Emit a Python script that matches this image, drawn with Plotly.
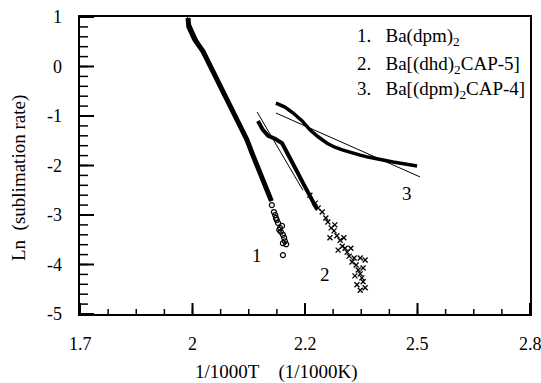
import plotly.graph_objects as go

# ---- data ----
s1_x = [1.964, 1.966, 1.980, 2.001, 2.018, 2.035, 2.050, 2.067, 2.088, 2.108, 2.123, 2.140, 2.155, 2.168]
s1_y = [0.98, 0.80, 0.55, 0.30, 0.02, -0.27, -0.52, -0.80, -1.12, -1.48, -1.80, -2.15, -2.45, -2.72]
s1_tail_x = [2.169, 2.174, 2.177, 2.179, 2.181, 2.184, 2.187, 2.189, 2.191, 2.194, 2.196, 2.199, 2.201, 2.196, 2.204, 2.196]
s1_tail_y = [-2.80, -2.94, -3.00, -3.06, -3.10, -3.16, -3.30, -3.26, -3.34, -3.22, -3.40, -3.46, -3.53, -3.57, -3.59, -3.81]

s2_x = [2.135, 2.147, 2.160, 2.177, 2.194, 2.206, 2.226, 2.245, 2.262, 2.279]
s2_y = [-1.10, -1.28, -1.40, -1.46, -1.55, -1.75, -2.05, -2.35, -2.62, -2.88]
s2_tail_x = [2.262, 2.275, 2.282, 2.292, 2.301, 2.306, 2.314, 2.321, 2.328, 2.336, 2.341, 2.348, 2.353,
             2.358, 2.365, 2.370, 2.375, 2.380, 2.385, 2.389, 2.392, 2.377, 2.385, 2.385, 2.397, 2.392,
             2.311, 2.331, 2.372, 2.323, 2.345, 2.362, 2.397]
s2_tail_y = [-2.60, -2.76, -2.86, -2.94, -3.06, -3.14, -3.26, -3.32, -3.42, -3.51, -3.63, -3.67, -3.75,
             -3.83, -3.95, -3.87, -4.01, -4.11, -4.19, -4.27, -4.35, -4.41, -4.52, -3.87, -3.91, -4.07,
             -3.46, -3.71, -4.23, -3.20, -3.46, -3.67, -4.47]

s3_x = [2.179, 2.201, 2.221, 2.243, 2.262, 2.282, 2.304, 2.323, 2.343, 2.365, 2.385, 2.404, 2.426, 2.446, 2.465, 2.495, 2.524]
s3_y = [-0.74, -0.82, -0.94, -1.10, -1.28, -1.42, -1.55, -1.63, -1.69, -1.75, -1.79, -1.83, -1.87, -1.91, -1.93, -1.97, -2.01]

fit1_x = [1.962, 2.05]
fit1_y = [1.0, -0.60]
fit2_x = [2.133, 2.245]
fit2_y = [-0.92, -2.50]
fit3_x = [2.179, 2.531]
fit3_y = [-0.94, -2.23]

legend_lines = ["1.\u00a0\u00a0\u00a0Ba(dpm)<sub>2</sub>",
                "2.\u00a0\u00a0\u00a0Ba[(dhd)<sub>2</sub>CAP-5]",
                "3.\u00a0\u00a0\u00a0Ba[(dpm)<sub>2</sub>CAP-4]"]
legend_y = [0.60, 0.03, -0.48]
legend_x = 2.372

curve_labels = ["1", "2", "3"]
curve_label_x = [2.133, 2.299, 2.500]
curve_label_y = [-3.81, -4.21, -2.56]

X_RANGE = [1.7, 2.8]
Y_RANGE = [-5, 1]
x_tickvals = [1.7, 1.975, 2.25, 2.525, 2.8]
x_ticktext = ["1.7", "2", "2.2", "2.5", "2.8"]
y_tickvals = [1, 0, -1, -2, -3, -4, -5]
y_ticktext = ["1", "0", "-1", "-2", "-3", "-4", "-5"]
x_minor = [X_RANGE[0] + i * (x_tickvals[1] - x_tickvals[0]) / 4 for i in range(17)]
y_minor = [Y_RANGE[0] + i * 0.2 for i in range(31)]

FONT = "Liberation Serif"
PLOT_W, PLOT_H = 450, 297
X_PER_PX = (X_RANGE[1] - X_RANGE[0]) / PLOT_W
Y_PER_PX = (Y_RANGE[1] - Y_RANGE[0]) / PLOT_H

fig = go.Figure()


def tick_trace(xs, ys, width):
    fig.add_trace(go.Scatter(x=xs, y=ys, mode="lines", line=dict(color="black", width=width),
                             hoverinfo="skip", cliponaxis=False))


# inward ticks, built from the tick arrays on the axis scales
for vals, length, width in [(x_minor, 5, 1.5), (x_tickvals, 11, 2)]:
    xs, ys = [], []
    for v in vals:
        xs += [v, v, None]
        ys += [Y_RANGE[0], Y_RANGE[0] + length * Y_PER_PX, None]
    tick_trace(xs, ys, width)
for vals, length, width in [(y_minor, 8, 1.5), (y_tickvals, 14, 2)]:
    xs, ys = [], []
    for v in vals:
        xs += [X_RANGE[0], X_RANGE[0] + length * X_PER_PX, None]
        ys += [v, v, None]
    tick_trace(xs, ys, width)

for fx, fy in [(fit1_x, fit1_y), (fit2_x, fit2_y), (fit3_x, fit3_y)]:
    fig.add_trace(go.Scatter(x=fx, y=fy, mode="lines", line=dict(color="black", width=1)))

fig.add_trace(go.Scatter(x=s1_x, y=s1_y, mode="lines", line=dict(color="black", width=5)))
fig.add_trace(go.Scatter(x=s1_tail_x, y=s1_tail_y, mode="markers",
                         marker=dict(symbol="circle-open", size=5, color="black", line=dict(width=1.2))))
fig.add_trace(go.Scatter(x=s2_x, y=s2_y, mode="lines", line=dict(color="black", width=4)))
fig.add_trace(go.Scatter(x=s2_tail_x, y=s2_tail_y, mode="markers",
                         marker=dict(symbol="x-thin", size=5, color="black", line=dict(width=1.3, color="black"))))
fig.add_trace(go.Scatter(x=s3_x, y=s3_y, mode="lines", line=dict(color="black", width=3.5)))

for t, yy in zip(legend_lines, legend_y):
    fig.add_annotation(x=legend_x, y=yy, text=t, showarrow=False, xanchor="left", yanchor="middle",
                       font=dict(family=FONT, size=19, color="black"))
for t, xx, yy in zip(curve_labels, curve_label_x, curve_label_y):
    fig.add_annotation(x=xx, y=yy, text=t, showarrow=False, xanchor="center", yanchor="middle",
                       font=dict(family=FONT, size=19, color="black"))

# tick labels (placed on the axis scales)
for v, t in zip(x_tickvals, x_ticktext):
    fig.add_annotation(x=v, xref="x", yref="paper", y=-30 / PLOT_H, text=t, showarrow=False,
                       xanchor="center", yanchor="middle", font=dict(family=FONT, size=18, color="black"))
for v, t in zip(y_tickvals, y_ticktext):
    fig.add_annotation(x=-16 / PLOT_W, xref="paper", yref="y", y=v, text=t, showarrow=False,
                       xanchor="right", yanchor="middle", font=dict(family=FONT, size=18, color="black"))

# axis titles
fig.add_annotation(xref="paper", yref="paper", x=(276 - 80) / PLOT_W, y=-(372 - 314) / PLOT_H,
                   text="1/1000T\u00a0\u00a0\u00a0\u00a0(1/1000K)", showarrow=False,
                   xanchor="center", yanchor="middle", font=dict(family=FONT, size=19, color="black"))
fig.add_annotation(xref="paper", yref="paper", x=-(80 - 19) / PLOT_W, y=(314 - 178) / PLOT_H,
                   text="Ln\u00a0\u00a0(sublimation rate)", showarrow=False, textangle=-90,
                   xanchor="center", yanchor="middle", font=dict(family=FONT, size=19, color="black"))

fig.update_layout(
    width=541, height=383,
    margin=dict(l=80, r=11, t=17, b=69),
    paper_bgcolor="white", plot_bgcolor="white",
    showlegend=False,
    font=dict(family=FONT, size=18, color="black"),
    xaxis=dict(range=X_RANGE, showticklabels=False, ticks="", showgrid=False, zeroline=False,
               showline=True, linecolor="black", linewidth=2, mirror=True, automargin=False),
    yaxis=dict(range=Y_RANGE, showticklabels=False, ticks="", showgrid=False, zeroline=False,
               showline=True, linecolor="black", linewidth=2, mirror=True, automargin=False),
)

fig.write_html("out.html")
